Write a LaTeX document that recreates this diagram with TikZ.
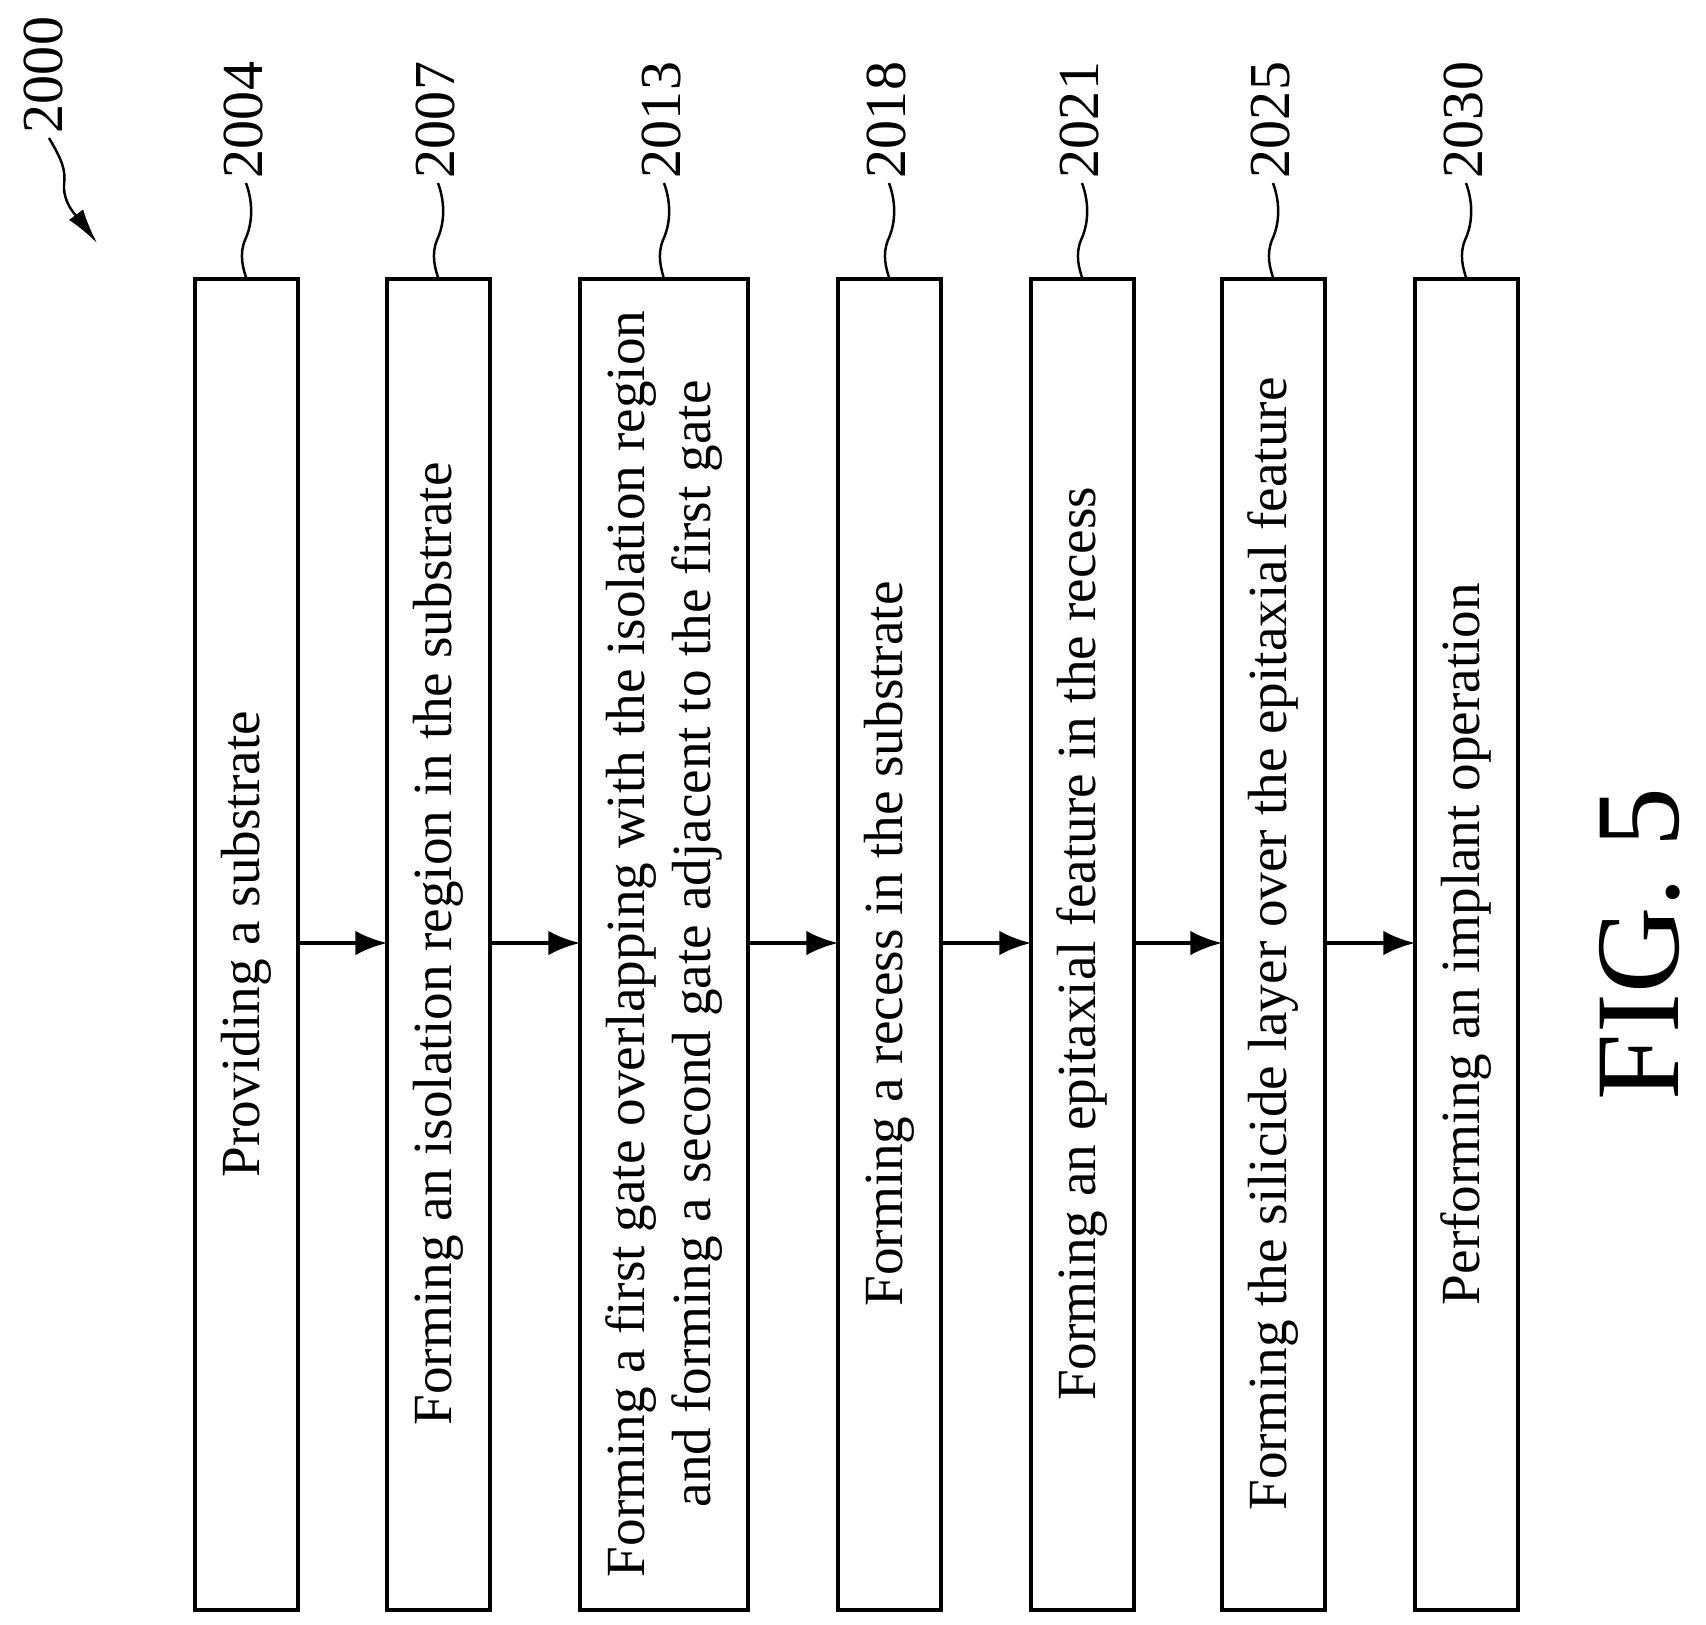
\documentclass[tikz,border=0pt]{standalone}
\usepackage{fontspec}
\setmainfont{Liberation Serif}
\usetikzlibrary{arrows.meta}
\begin{document}
\begin{tikzpicture}[x=0.01cm,y=-0.01cm,
  box/.style={draw,line width=1.1pt,rectangle,minimum height=0.01cm},
  txt/.style={rotate=90,font=\fontsize{15.7}{19}\selectfont,align=center},
  num/.style={rotate=90,font=\fontsize{16.5}{20}\selectfont,inner sep=0pt},
  arr/.style={-{Latex[length=9pt,width=7pt]},line width=1.1pt},
  lead/.style={line width=0.7pt}]
\useasboundingbox (0,0) rectangle (1706,1624);
\def\bx#1#2#3{\draw[box] (#2,279) rectangle (#3,1610); \coordinate (#1t) at ({(#2+#3)/2},279); \coordinate (#1l) at (#2,943); \coordinate (#1r) at (#3,943);}
\bx{a}{195}{298}
\bx{b}{387}{490}
\bx{c}{580}{748}
\bx{d}{838}{941}
\bx{e}{1031}{1134}
\bx{f}{1222}{1325}
\bx{g}{1415}{1518}
\node[txt] (ta) at (246,944) {Providing a substrate};
\node[txt] (tb) at (438,944) {Forming an isolation region in the substrate};
\node[txt] (tc) at (664,944) {Forming a first gate overlapping with the isolation region\\and forming a second gate adjacent to the first gate};
\node[txt] (td) at (889,944) {Forming a recess in the substrate};
\node[txt] (te) at (1082,944) {Forming an epitaxial feature in the recess};
\node[txt] (tf) at (1273,944) {Forming the silicide layer over the epitaxial feature};
\node[txt] (tg) at (1466,944) {Performing an implant operation};
\foreach \p/\q in {a/b,b/c,c/d,d/e,e/f,f/g} \draw[arr] (\p r) -- (\q l);
\foreach \n/\x/\l in {a/246/2004,b/438/2007,c/664/2013,d/889/2018,e/1082/2021,f/1273/2025,g/1466/2030}{
  \node[num] (n\n) at (\x-3,120) {\l};
  \draw[lead] (\x,183) .. controls (\x+8,205) and (\x+6,225) .. (\x-1,240) .. controls (\x-7,255) and (\x-3,268) .. (\n t);
}
\node[num] (n0) at (43,75) {2000};
\coordinate (tip) at (97,243);
\draw[lead,-{Latex[length=10pt,width=5pt]}] (49,138) .. controls (62,160) and (66,170) .. (64,185) .. controls (63,205) and (80,220) .. (tip);
\node[font=\fontsize{34}{38}\selectfont,rotate=90] (fig) at (1640,944) {FIG. 5};
\end{tikzpicture}
\end{document}
